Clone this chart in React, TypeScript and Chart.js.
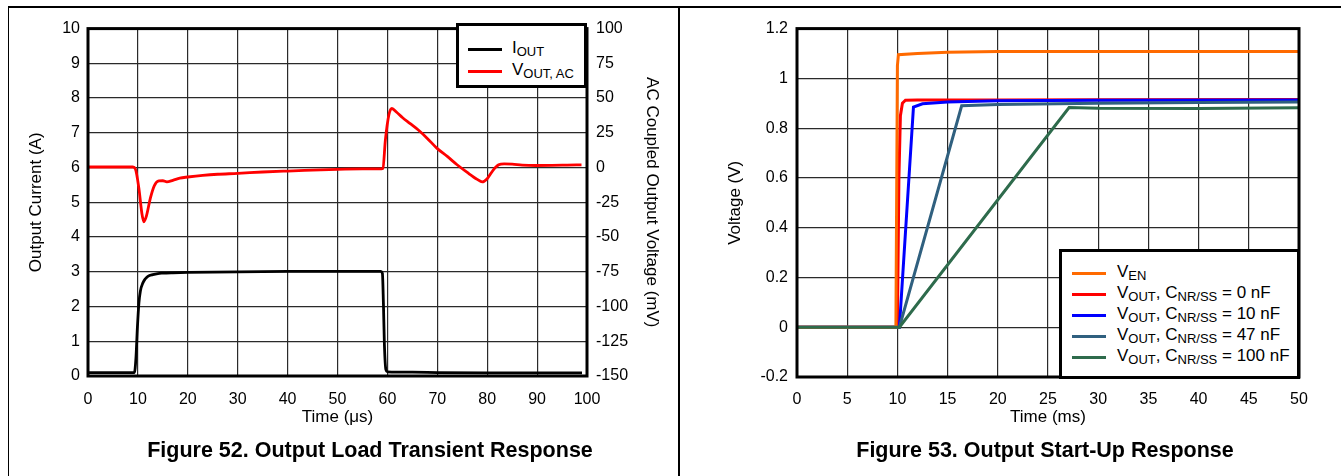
import React, { useEffect, useRef } from 'react';
import { Chart, registerables } from 'chart.js';

Chart.register(...registerables);

const FONT = '"Liberation Sans", Arial, Helvetica, sans-serif';

// ---------- Figure 52: Output Load Transient Response ----------
const ioutTimeUs = [0, 9.3, 9.6, 9.9, 10.2, 10.5, 11.0, 11.5, 12.0, 13, 14, 15, 17, 20, 30, 40, 50, 58.6, 59.0, 59.2, 59.4, 59.7, 60.0, 65, 70, 80, 90, 99];
const ioutAmps = [0.1, 0.1, 0.5, 1.4, 2.1, 2.45, 2.68, 2.8, 2.87, 2.92, 2.95, 2.96, 2.97, 2.98, 3.0, 3.01, 3.01, 3.01, 2.95, 2.1, 0.9, 0.18, 0.12, 0.11, 0.1, 0.09, 0.09, 0.09];

const vacTimeUs = [0, 9.0, 9.5, 10.2, 10.8, 11.2, 11.7, 12.5, 13.3, 14.2, 15.0, 15.8, 17, 18.4, 20, 23, 26, 30, 35, 40, 45, 50, 55, 58.8, 59.1, 59.6, 60.3, 60.9, 61.8, 63, 64.5, 66.2, 68, 69.9, 72, 73.9, 76, 78, 79, 80, 81.2, 82.3, 83.4, 85, 87, 89.7, 93, 96, 98.9];
const vacMilliVolts = [0.4, 0.4, -1, -15, -33, -39, -35, -22, -13, -9.6, -9.5, -10.3, -9.2, -7.6, -6.8, -5.6, -4.8, -4.2, -3.2, -2.5, -1.9, -1.3, -1.0, -0.9, -0.6, 20, 38, 42.5, 40, 36, 31.8, 27, 21, 14, 8, 2.2, -3.5, -8.5, -10.3, -8, -1.8, 2, 2.7, 2.5, 1.8, 1.5, 1.6, 1.8, 2.0];

const f52XTicks = [0, 10, 20, 30, 40, 50, 60, 70, 80, 90, 100];
const f52LeftTicks = [0, 1, 2, 3, 4, 5, 6, 7, 8, 9, 10];
const f52RightTicks = [-150, -125, -100, -75, -50, -25, 0, 25, 50, 75, 100];

// ---------- Figure 53: Output Start-Up Response ----------
const venTimeMs = [0, 9.85, 10.0, 10.1, 12, 15, 20, 30, 50];
const venVolts = [0, 0, 1.05, 1.095, 1.1, 1.105, 1.108, 1.108, 1.108];

const v0nfTimeMs = [0, 10.0, 10.15, 10.3, 10.5, 10.8, 12, 20, 30, 50];
const v0nfVolts = [0, 0, 0.6, 0.85, 0.9, 0.912, 0.913, 0.913, 0.914, 0.915];

const v10nfTimeMs = [0, 10.2, 11.6, 12.5, 15, 20, 30, 50];
const v10nfVolts = [0, 0, 0.885, 0.898, 0.905, 0.91, 0.912, 0.913];

const v47nfTimeMs = [0, 10.2, 16.4, 20, 30, 40, 50];
const v47nfVolts = [0, 0, 0.89, 0.895, 0.9, 0.903, 0.905];

const v100nfTimeMs = [0, 10.2, 27.1, 30, 40, 50];
const v100nfVolts = [0, 0, 0.883, 0.88, 0.879, 0.882];

const f53XTicks = [0, 5, 10, 15, 20, 25, 30, 35, 40, 45, 50];
const f53YTicks = [-0.2, 0, 0.2, 0.4, 0.6, 0.8, 1, 1.2];

const COLORS = {
  iout: '#000000',
  vac: '#ff0000',
  ven: '#ff6a00',
  v0: '#ff0000',
  v10: '#0000ff',
  v47: '#30607f',
  v100: '#2e6b4c',
};

const pts = (xs: number[], ys: number[]) => xs.map((x, i) => ({ x, y: ys[i] }));

const framePlugin = {
  id: 'frame',
  afterDatasetsDraw(chart: any) {
    const { ctx, chartArea: a } = chart;
    ctx.save();
    ctx.strokeStyle = '#000';
    ctx.lineWidth = 3;
    ctx.strokeRect(a.left, a.top, a.right - a.left, a.bottom - a.top);
    ctx.restore();
  },
};

const tickFont = { family: FONT, size: 16 };
const titleFont = { family: FONT, size: 17 };
const gridStyle = { color: '#2a2a2a', lineWidth: 1.2, drawTicks: false };

const setTicks = (vals: number[]) => (s: any) => {
  s.ticks = vals.map((v) => ({ value: v }));
};

function Figure52() {
  const ref = useRef<HTMLCanvasElement>(null);
  useEffect(() => {
    const chart = new Chart(ref.current!, {
      type: 'line',
      data: {
        datasets: [
          {
            label: 'IOUT',
            data: pts(ioutTimeUs, ioutAmps),
            borderColor: COLORS.iout,
            borderWidth: 2.8,
            pointRadius: 0,
            yAxisID: 'y',
            cubicInterpolationMode: 'monotone',
          },
          {
            label: 'VOUT, AC',
            data: pts(vacTimeUs, vacMilliVolts),
            borderColor: COLORS.vac,
            borderWidth: 2.8,
            pointRadius: 0,
            yAxisID: 'y1',
            cubicInterpolationMode: 'monotone',
          },
        ],
      },
      options: {
        animation: false,
        responsive: false,
        events: [],
        layout: { padding: { top: 14, left: 0, right: 0, bottom: 0 } },
        plugins: { legend: { display: false }, tooltip: { enabled: false } },
        scales: {
          x: {
            type: 'linear',
            min: 0,
            max: 100,
            afterBuildTicks: setTicks(f52XTicks),
            afterFit: (s: any) => { s.height = 64; },
            grid: gridStyle,
            border: { display: false },
            ticks: { color: '#000', font: tickFont, padding: 14, maxRotation: 0, autoSkip: false },
            title: { display: true, text: 'Time (μs)', color: '#000', font: titleFont, padding: { top: 0, bottom: 12 } },
          },
          y: {
            type: 'linear',
            position: 'left',
            min: 0,
            max: 10,
            afterBuildTicks: setTicks(f52LeftTicks),
            afterFit: (s: any) => { s.width = 78; },
            grid: gridStyle,
            border: { display: false },
            ticks: { color: '#000', font: tickFont, padding: 8, autoSkip: false },
            title: { display: true, text: 'Output Current (A)', color: '#000', font: titleFont, padding: { top: 16, bottom: 0 } },
          },
          y1: {
            type: 'linear',
            position: 'right',
            min: -150,
            max: 100,
            afterBuildTicks: setTicks(f52RightTicks),
            afterFit: (s: any) => { s.width = 91; },
            grid: { display: false, drawTicks: false },
            border: { display: false },
            ticks: { color: '#000', font: tickFont, padding: 9, autoSkip: false },
            title: { display: true, text: 'AC Coupled Output Voltage (mV)', color: '#000', font: titleFont, padding: { top: 16, bottom: 0 } },
          },
        },
      },
      plugins: [framePlugin],
    } as any);
    return () => chart.destroy();
  }, []);
  return <canvas ref={ref} width={668} height={430} style={{ position: 'absolute', left: 10, top: 10, display: 'block' }} />;
}

function Figure53() {
  const ref = useRef<HTMLCanvasElement>(null);
  useEffect(() => {
    const mk = (label: string, xs: number[], ys: number[], color: string, order: number) => ({
      label,
      data: pts(xs, ys),
      borderColor: color,
      borderWidth: 3,
      pointRadius: 0,
      order,
    });
    const chart = new Chart(ref.current!, {
      type: 'line',
      data: {
        datasets: [
          mk('VEN', venTimeMs, venVolts, COLORS.ven, 1),
          mk('VOUT, CNR/SS = 0 nF', v0nfTimeMs, v0nfVolts, COLORS.v0, 4),
          mk('VOUT, CNR/SS = 10 nF', v10nfTimeMs, v10nfVolts, COLORS.v10, 3),
          mk('VOUT, CNR/SS = 47 nF', v47nfTimeMs, v47nfVolts, COLORS.v47, 2),
          mk('VOUT, CNR/SS = 100 nF', v100nfTimeMs, v100nfVolts, COLORS.v100, 0),
        ],
      },
      options: {
        animation: false,
        responsive: false,
        events: [],
        layout: { padding: { top: 13, left: 0, right: 42, bottom: 0 } },
        plugins: { legend: { display: false }, tooltip: { enabled: false } },
        scales: {
          x: {
            type: 'linear',
            min: 0,
            max: 50,
            afterBuildTicks: setTicks(f53XTicks),
            afterFit: (s: any) => { s.height = 63; },
            grid: gridStyle,
            border: { display: false },
            ticks: { color: '#000', font: tickFont, padding: 13, maxRotation: 0, autoSkip: false },
            title: { display: true, text: 'Time (ms)', color: '#000', font: titleFont, padding: { top: 0, bottom: 12 } },
          },
          y: {
            type: 'linear',
            position: 'left',
            min: -0.2,
            max: 1.2,
            afterBuildTicks: setTicks(f53YTicks),
            afterFit: (s: any) => { s.width = 107; },
            grid: gridStyle,
            border: { display: false },
            ticks: { color: '#000', font: tickFont, padding: 9, autoSkip: false, callback: (v: any) => String(Math.round(Number(v) * 10) / 10) },
            title: { display: true, text: 'Voltage (V)', color: '#000', font: titleFont, padding: { top: 35, bottom: 0 } },
          },
        },
      },
      plugins: [framePlugin],
    } as any);
    return () => chart.destroy();
  }, []);
  return <canvas ref={ref} width={651} height={430} style={{ position: 'absolute', left: 690, top: 10, display: 'block' }} />;
}

const legendBox: React.CSSProperties = {
  position: 'absolute',
  boxSizing: 'border-box',
  background: '#fff',
  border: '3px solid #000',
  fontFamily: FONT,
  color: '#000',
};

function LegendRow({ color, top, left, lineLeft, children }: any) {
  return (
    <>
      <div style={{ position: 'absolute', left: lineLeft, top: top - 1.5, width: 34, height: 3, background: color }} />
      <div style={{ position: 'absolute', left, top: top - 11, fontSize: 17, lineHeight: '20px', whiteSpace: 'nowrap' }}>{children}</div>
    </>
  );
}

const subStyle: React.CSSProperties = { fontSize: 13, verticalAlign: '-3px' };

const captionStyle: React.CSSProperties = {
  position: 'absolute',
  width: 600,
  top: 436,
  textAlign: 'center',
  fontWeight: 'bold',
  fontSize: 21.5,
  lineHeight: '28px',
  whiteSpace: 'nowrap',
};

export default function App() {
  return (
    <div style={{ position: 'absolute', left: 0, top: 0, width: 1341, height: 476, background: '#fff', overflow: 'hidden', fontFamily: FONT }}>
      <div style={{ position: 'absolute', left: 8, top: 6, width: 1333, height: 2, background: '#000' }} />
      <div style={{ position: 'absolute', left: 8, top: 6, width: 1, height: 470, background: '#000' }} />
      <div style={{ position: 'absolute', left: 678, top: 6, width: 2, height: 470, background: '#000' }} />
      <Figure52 />
      <Figure53 />

      <div style={{ ...legendBox, left: 456, top: 23, width: 131, height: 65 }}>
        <LegendRow color={COLORS.iout} top={23} left={53} lineLeft={9}>I<span style={subStyle}>OUT</span></LegendRow>
        <LegendRow color={COLORS.vac} top={45} left={53} lineLeft={9}>V<span style={subStyle}>OUT, AC</span></LegendRow>
      </div>

      <div style={{ ...legendBox, left: 1059, top: 249, width: 241, height: 130 }}>
        <LegendRow color={COLORS.ven} top={21} left={55} lineLeft={10}>V<span style={subStyle}>EN</span></LegendRow>
        <LegendRow color={COLORS.v0} top={42} left={55} lineLeft={10}>V<span style={subStyle}>OUT</span>, C<span style={subStyle}>NR/SS</span> = 0 nF</LegendRow>
        <LegendRow color={COLORS.v10} top={63} left={55} lineLeft={10}>V<span style={subStyle}>OUT</span>, C<span style={subStyle}>NR/SS</span> = 10 nF</LegendRow>
        <LegendRow color={COLORS.v47} top={84} left={55} lineLeft={10}>V<span style={subStyle}>OUT</span>, C<span style={subStyle}>NR/SS</span> = 47 nF</LegendRow>
        <LegendRow color={COLORS.v100} top={105} left={55} lineLeft={10}>V<span style={subStyle}>OUT</span>, C<span style={subStyle}>NR/SS</span> = 100 nF</LegendRow>
      </div>

      <div style={{ ...captionStyle, left: 70 }}>Figure 52. Output Load Transient Response</div>
      <div style={{ ...captionStyle, left: 745 }}>Figure 53. Output Start-Up Response</div>
    </div>
  );
}
